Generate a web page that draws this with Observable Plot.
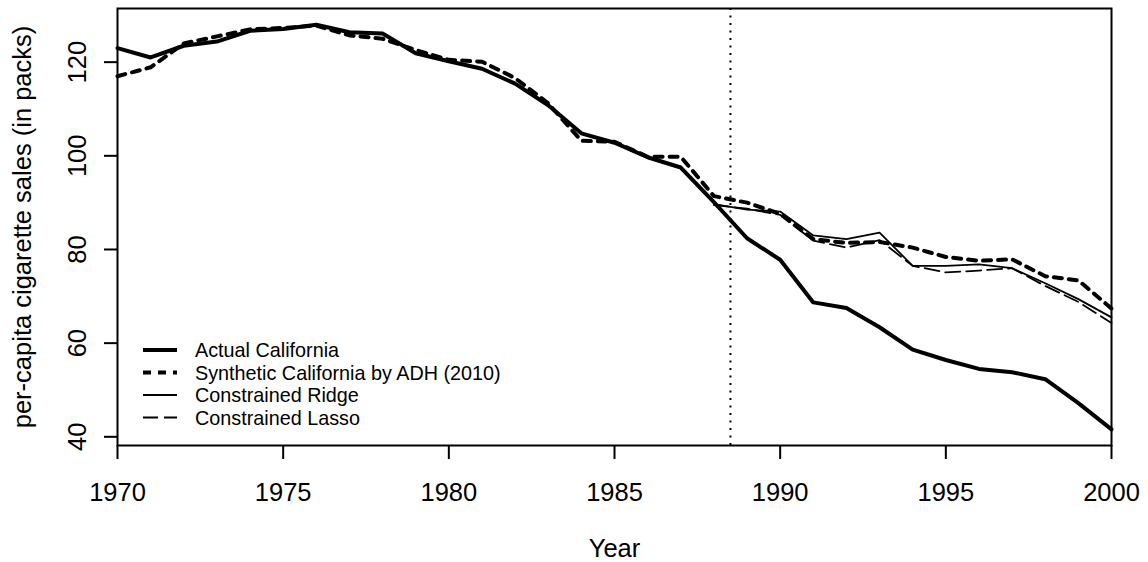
<!DOCTYPE html>
<html>
<head>
<meta charset="utf-8">
<script src="https://cdn.jsdelivr.net/npm/d3@7"></script>
<script src="https://cdn.jsdelivr.net/npm/@observablehq/plot@0.6"></script>
<style>
  html, body { margin: 0; padding: 0; background: #fff; }
  #wrap { position: relative; width: 1148px; height: 562px; font-family: "Liberation Sans", Arial, Helvetica, sans-serif; }
  #legend { position: absolute; left: 0; top: 0; pointer-events: none; }
</style>
</head>
<body>
<div id="wrap"></div>
<script>
const years = d3.range(1970, 2001);
const actual = [123.0, 121.0, 123.5, 124.4, 126.7, 127.1, 128.0, 126.4, 126.1, 121.9,
  120.2, 118.6, 115.4, 110.8, 104.8, 102.8, 99.7, 97.5, 90.1, 82.4,
  77.8, 68.7, 67.5, 63.4, 58.6, 56.4, 54.5, 53.8, 52.3, 47.2, 41.6];
const synthADH = [117.0, 118.9, 124.0, 125.5, 127.0, 127.3, 127.8, 125.7, 125.0, 122.6,
  120.5, 120.1, 116.6, 111.2, 103.2, 103.0, 99.8, 99.8, 91.4, 90.0,
  87.6, 82.2, 81.4, 81.6, 80.4, 78.4, 77.6, 77.9, 74.3, 73.4, 67.4];
const postYears = d3.range(1988, 2001);
const ridge = [89.7, 88.5, 88.1, 83.0, 82.2, 83.6, 76.5, 76.5, 76.8, 76.0, 72.8, 69.4, 65.5];
const lasso = [89.5, 88.7, 87.4, 81.9, 80.4, 82.0, 76.5, 75.1, 75.5, 76.0, 72.2, 68.8, 64.3];
const interventionYear = [1988.5];
const xTicks = [1970, 1975, 1980, 1985, 1990, 1995, 2000];
const yTicks = [40, 60, 80, 100, 120];
const seriesNames = ["Actual California", "Synthetic California by ADH (2010)", "Constrained Ridge", "Constrained Lasso"];

const toRows = (xs, ys) => xs.map((x, i) => ({year: x, value: ys[i]}));
const actualRows = toRows(years, actual);
const adhRows = toRows(years, synthADH);
const ridgeRows = toRows(postYears, ridge);
const lassoRows = toRows(postYears, lasso);

// R-style 4% range extension on y
const all = [...actual, ...synthADH, ...ridge, ...lasso];
const [ymin, ymax] = d3.extent(all);
const pad = (ymax - ymin) * 0.04;

const FONT = "'Liberation Sans', Arial, Helvetica, sans-serif";
const chart = Plot.plot({
  width: 1148,
  height: 562,
  marginLeft: 117,
  marginRight: 37,
  marginTop: 8,
  marginBottom: 117,
  style: {fontSize: "25.5px", fontFamily: FONT, color: "black", background: "white", overflow: "visible"},
  x: {domain: [1970, 2000]},
  y: {domain: [ymin - pad, ymax + pad]},
  marks: [
    Plot.axisX({ticks: xTicks, tickFormat: "d", tickSize: 14, tickPadding: 23, strokeWidth: 2, fontSize: 25.5,
      label: "Year", labelAnchor: "center", labelOffset: 111, labelArrow: "none"}),
    Plot.axisY({ticks: yTicks, tickSize: 13, tickRotate: -90, tickPadding: 19, strokeWidth: 2, fontSize: 25.5,
      label: "per-capita cigarette sales (in packs)", labelAnchor: "center", labelOffset: 105, labelArrow: "none"}),
    Plot.ruleX(interventionYear, {stroke: "black", strokeWidth: 2, strokeDasharray: "2,5.5"}),
    Plot.line(lassoRows, {x: "year", y: "value", stroke: "black", strokeWidth: 1.8, strokeDasharray: "15,6", strokeLinejoin: "round"}),
    Plot.line(ridgeRows, {x: "year", y: "value", stroke: "black", strokeWidth: 1.8, strokeLinejoin: "round"}),
    Plot.line(adhRows, {x: "year", y: "value", stroke: "black", strokeWidth: 4, strokeDasharray: "8,7", strokeLinejoin: "round"}),
    Plot.line(actualRows, {x: "year", y: "value", stroke: "black", strokeWidth: 4, strokeLinejoin: "round", strokeLinecap: "round"}),
    Plot.frame({stroke: "black", strokeWidth: 2})
  ]
});
const wrap = document.getElementById("wrap");
wrap.appendChild(chart);

// legend overlay
const styles = [
  {w: 4, dash: null},
  {w: 4, dash: "8,7"},
  {w: 1.8, dash: null},
  {w: 1.8, dash: "15,6"}
];
const rowY = [350, 372.5, 395, 417.5];
const ns = "http://www.w3.org/2000/svg";
const lg = document.createElementNS(ns, "svg");
lg.setAttribute("id", "legend");
lg.setAttribute("width", 1148);
lg.setAttribute("height", 562);
seriesNames.forEach((name, i) => {
  const ln = document.createElementNS(ns, "line");
  ln.setAttribute("x1", 143); ln.setAttribute("x2", 177);
  ln.setAttribute("y1", rowY[i]); ln.setAttribute("y2", rowY[i]);
  ln.setAttribute("stroke", "black");
  ln.setAttribute("stroke-width", styles[i].w);
  if (styles[i].dash) ln.setAttribute("stroke-dasharray", styles[i].dash);
  lg.appendChild(ln);
  const t = document.createElementNS(ns, "text");
  t.setAttribute("x", 195);
  t.setAttribute("y", rowY[i] + 7);
  t.setAttribute("font-size", "19.8px");
  t.setAttribute("font-family", FONT);
  t.setAttribute("fill", "black");
  t.textContent = name;
  lg.appendChild(t);
});
wrap.appendChild(lg);
</script>
</body>
</html>
